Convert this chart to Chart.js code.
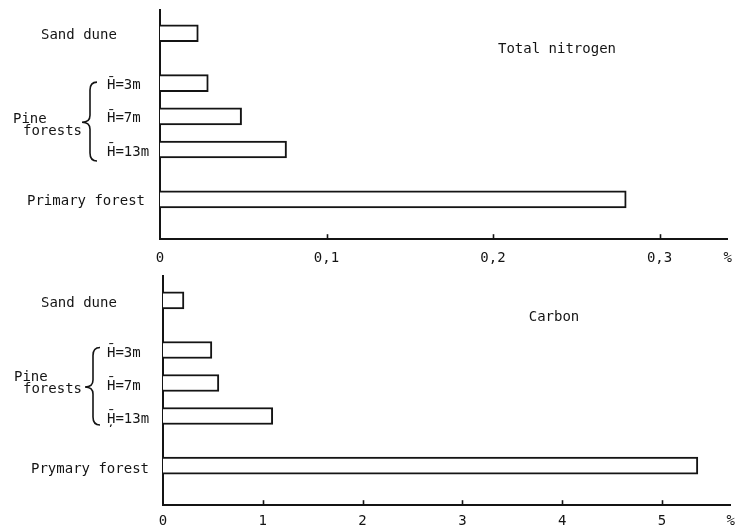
<!DOCTYPE html>
<html>
<head>
<meta charset="utf-8">
<script src="https://cdn.jsdelivr.net/npm/chart.js@4.4.1/dist/chart.umd.min.js"></script>
<style>
  html, body { margin: 0; padding: 0; background: #fff; overflow: hidden; width: 743px; height: 529px; }
  canvas.panel { position: absolute; left: 0; }
</style>
</head>
<body>
<canvas id="nitrogen" class="panel" style="top:0px" width="743" height="278"></canvas>
<canvas id="carbon" class="panel" style="top:266px" width="743" height="272"></canvas>
<script>
// ---- data ----
const nitrogenLabels = ['Sand dune', 'H\u0304=3m', 'H\u0304=7m', 'H\u0304=13m', 'Primary forest'];
const nitrogenValues = [0.023, 0.029, 0.049, 0.076, 0.280];
const nitrogenTicks  = [0, 0.1, 0.2, 0.3];

const carbonLabels = ['Sand dune', 'H\u0304=3m', 'H\u0304=7m', 'H\u0304\u0326=13m', 'Prymary forest'];
const carbonValues = [0.21, 0.49, 0.56, 1.10, 5.36];
const carbonTicks  = [0, 1, 2, 3, 4, 5];

const groupLabel = ['Pine', 'forests'];
const unitLabel  = '%';

// ---- layout ----
// Row slots on the (reversed) linear index axis; pine stands sit closer together.
const ROW_SLOTS = [0, 1.5, 2.5, 3.5, 5];
const PINE_ROWS = [1, 2, 3];
const FONT_FAMILY = '"DejaVu Sans Mono", "Liberation Mono", monospace';
const INK = '#141414';

const nitrogenLayout = {
  title: 'Total nitrogen', titleX: 557, titleY: 53,
  axisMax: 0.341, padLeft: 160, padRight: 15, tickPad: 11, yMin: -0.7, yMax: 6.2,
  labelX: [41, 107, 107, 107, 27], labelDy: 6,
  brace: { xl: 82, xm: 90, xr: 97, top: -1, tip: 6, bottom: 11.5 },
  groupX: [13, 23], groupDy: [7, 19]
};
const carbonLayout = {
  title: 'Carbon', titleX: 554, titleY: 55,
  axisMax: 5.69, padLeft: 163, padRight: 11, tickPad: 8, yMin: -0.74, yMax: 6.2,
  labelX: [41, 107, 107, 107, 31], labelDy: 7,
  brace: { xl: 85, xm: 93, xr: 100, top: -2.5, tip: 4, bottom: 9 },
  groupX: [14, 23], groupDy: [-2, 10]
};

function formatTick(v, max) {
  if (v === max) return unitLabel;
  return String(v).replace('.', ',');
}

function drawBrace(ctx, b, yTop, yTip, yBot) {
  ctx.beginPath();
  ctx.moveTo(b.xr, yTop);
  ctx.quadraticCurveTo(b.xm, yTop, b.xm, yTop + 8);
  ctx.lineTo(b.xm, yTip - 7);
  ctx.quadraticCurveTo(b.xm, yTip, b.xl, yTip);
  ctx.quadraticCurveTo(b.xm, yTip, b.xm, yTip + 7);
  ctx.lineTo(b.xm, yBot - 8);
  ctx.quadraticCurveTo(b.xm, yBot, b.xr, yBot);
  ctx.stroke();
}

// Row labels, the pine-forest brace, inward tick marks and the panel title.
function makeDecor(layout, labels, ticks) {
  return {
    id: 'panelDecor',
    afterDraw(chart) {
      const ctx = chart.ctx;
      const xs = chart.scales.x, ys = chart.scales.y;
      const area = chart.chartArea;
      const rowY = i => ys.getPixelForValue(ROW_SLOTS[i]);
      ctx.save();
      ctx.fillStyle = INK;
      ctx.strokeStyle = INK;
      ctx.font = '14px ' + FONT_FAMILY;
      ctx.textBaseline = 'alphabetic';
      ctx.textAlign = 'left';

      labels.forEach((txt, i) => {
        ctx.fillText(txt, layout.labelX[i], rowY(i) + layout.labelDy);
      });

      const mid = PINE_ROWS[1];
      groupLabel.forEach((txt, k) => {
        ctx.fillText(txt, layout.groupX[k], rowY(mid) + layout.groupDy[k]);
      });

      ctx.lineWidth = 1.6;
      drawBrace(ctx, layout.brace,
        rowY(PINE_ROWS[0]) + layout.brace.top,
        rowY(mid) + layout.brace.tip,
        rowY(PINE_ROWS[2]) + layout.brace.bottom);

      // tick marks point up into the plot
      ctx.lineWidth = 1.6;
      ticks.forEach(v => {
        if (v === 0) return;
        const px = Math.round(xs.getPixelForValue(v)) + 0.5;
        ctx.beginPath();
        ctx.moveTo(px, area.bottom);
        ctx.lineTo(px, area.bottom - 5);
        ctx.stroke();
      });

      ctx.textAlign = 'center';
      ctx.fillText(layout.title, layout.titleX, layout.titleY);
      ctx.restore();
    }
  };
}

function makePanel(canvasId, labels, values, ticks, layout) {
  const max = layout.axisMax;
  return new Chart(document.getElementById(canvasId), {
    type: 'bar',
    data: {
      datasets: [{
        data: values.map((v, i) => ({ x: v, y: ROW_SLOTS[i] })),
        backgroundColor: '#ffffff',
        borderColor: INK,
        borderWidth: 2,
        borderSkipped: 'start',
        barThickness: 17
      }]
    },
    options: {
      indexAxis: 'y',
      responsive: false,
      animation: false,
      events: [],
      layout: { padding: { left: layout.padLeft, right: layout.padRight, top: 10, bottom: 0 } },
      plugins: { legend: { display: false }, tooltip: { enabled: false } },
      scales: {
        x: {
          type: 'linear',
          position: 'bottom',
          min: 0,
          max: max,
          grid: { display: false, drawTicks: false },
          border: { display: true, color: INK, width: 2 },
          afterBuildTicks: s => { s.ticks = ticks.concat([max]).map(v => ({ value: v })); },
          ticks: {
            autoSkip: false,
            maxRotation: 0,
            padding: layout.tickPad,
            color: INK,
            font: { family: FONT_FAMILY, size: 14 },
            callback: v => formatTick(v, max)
          }
        },
        y: {
          type: 'linear',
          position: 'left',
          reverse: true,
          offset: false,
          min: layout.yMin,
          max: layout.yMax,
          grid: { display: false, drawTicks: false },
          border: { display: true, color: INK, width: 2 },
          ticks: { display: false }
        }
      }
    },
    plugins: [makeDecor(layout, labels, ticks)]
  });
}

makePanel('nitrogen', nitrogenLabels, nitrogenValues, nitrogenTicks, nitrogenLayout);
makePanel('carbon', carbonLabels, carbonValues, carbonTicks, carbonLayout);
</script>
</body>
</html>
